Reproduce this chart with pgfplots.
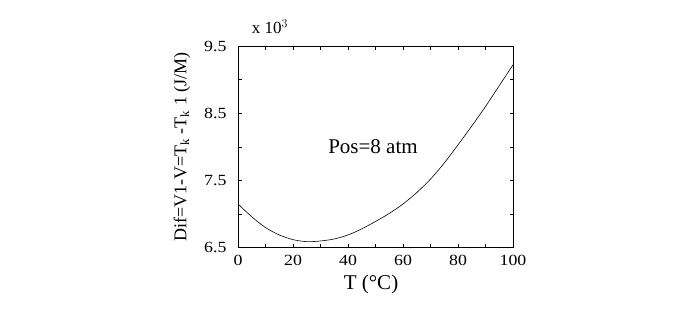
\documentclass[border=0pt]{standalone}
\usepackage{fontspec}
\setmainfont{Liberation Serif}
\newfontfamily\tickfont{Liberation Serif}[FakeStretch=1.15]
\usepackage{pgfplots}
\pgfplotsset{compat=1.18}
\begin{document}
\begin{tikzpicture}[x=1pt,y=1pt]
\useasboundingbox (0pt,0pt) rectangle (685pt,314pt);
\begin{axis}[at={(238pt,66.3pt)}, anchor=south west, scale only axis,
  width=275pt, height=201.7pt,
  xmin=0, xmax=100, ymin=6.5, ymax=9.5,
  xtick={0,20,...,100}, minor xtick={10,30,...,90},
  ytick={6.5,7.5,8.5,9.5}, minor ytick={7,8,9},
  major tick length=3.5pt, minor tick length=3.5pt,
  tick style={black, line width=0.5pt},
  axis line style={line width=0.7pt},
  /pgf/number format/assume math mode=true,
  ticklabel style={font=\tickfont\fontsize{15.5}{17}\selectfont},
  yticklabel style={/pgf/number format/fixed, /pgf/number format/precision=1, /pgf/number format/fixed zerofill, xshift=-8pt},
  scaled y ticks=false,
  xticklabel style={yshift=-6pt, inner ysep=1pt},
]
\addplot[black, line width=0.6pt, smooth, tension=0.5] coordinates {
(0,7.15) (5,6.96) (10,6.80) (15,6.69) (20,6.62) (25,6.59) (30,6.60) (35,6.63)
(40,6.69) (45,6.78) (50,6.89) (55,7.01) (60,7.15) (65,7.32) (70,7.52) (75,7.76)
(80,8.03) (85,8.31) (90,8.60) (95,8.91) (100,9.22)
};
\end{axis}
\node[font=\fontsize{17}{19}\selectfont] at (270pt,287pt) {x 10$^{3}$};
\node[font=\fontsize{21}{23}\selectfont] at (373pt,167pt) {Pos=8 atm};
\node[font=\fontsize{21}{23}\selectfont, inner sep=1pt] at (371pt,30pt) {T (°C)};
\node[rotate=90, font=\fontsize{18}{20}\selectfont] at (182pt,167pt) {Dif=V1-V=T$_{\mathrm{k}}$ -T$_{\mathrm{k}}$ 1 (J/M)};
\end{tikzpicture}
\end{document}
